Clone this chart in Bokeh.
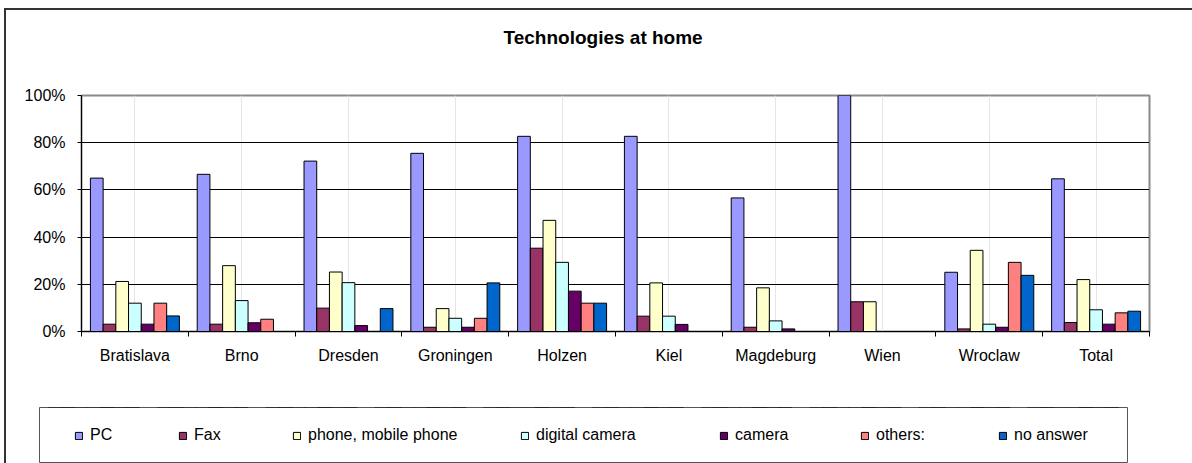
from bokeh.plotting import figure
from bokeh.layouts import column
from bokeh.models import (ColumnDataSource, FactorRange, Range1d, Legend, LegendItem,
                          LinearAxis, FixedTicker, PrintfTickFormatter, Grid, Title)
from bokeh.transform import dodge
from bokeh.embed import file_html
from bokeh.resources import INLINE

# ---------------- data (percent of respondents) ----------------
cities = ["Bratislava", "Brno", "Dresden", "Groningen", "Holzen", "Kiel",
          "Magdeburg", "Wien", "Wroclaw", "Total"]
pc        = [65.0, 66.6, 72.2, 75.5, 82.7, 82.7, 56.6, 100.0, 25.1, 64.7]
fax       = [3.1, 3.1, 9.9, 1.8, 35.3, 6.5, 1.8, 12.6, 1.1, 3.8]
phone     = [21.2, 27.9, 25.2, 9.7, 47.1, 20.6, 18.5, 12.6, 34.4, 22.0]
digital   = [12.0, 13.1, 20.7, 5.6, 29.3, 6.5, 4.5, 0.0, 3.1, 9.2]
camera    = [3.1, 3.7, 2.5, 1.8, 17.1, 3.0, 1.1, 0.0, 1.8, 3.1]
others    = [12.0, 5.2, 0.0, 5.6, 12.0, 0.0, 0.0, 0.0, 29.3, 7.9]
no_answer = [6.6, 0.0, 9.7, 20.6, 12.0, 0.0, 0.0, 0.0, 23.8, 8.6]
series_names = ["PC", "Fax", "phone, mobile phone", "digital camera",
                "camera", "others:", "no answer"]
y_ticks = [0, 20, 40, 60, 80, 100]

# ---------------- styles ----------------
colors = ["#9999FF", "#993366", "#FFFFCC", "#CCFFFF", "#660066", "#FF8080", "#0066CC"]
FONT = "Liberation Sans"
BAR_W = 0.119
cols = ["s0", "s1", "s2", "s3", "s4", "s5", "s6"]

src = ColumnDataSource(dict(city=cities, s0=pc, s1=fax, s2=phone, s3=digital,
                            s4=camera, s5=others, s6=no_answer))

# ---------------- title strip ----------------
tf = figure(width=1186, height=65, output_backend="svg", toolbar_location=None,
            x_axis_location=None, y_axis_location=None, frame_align=False,
            min_border_left=75, min_border_right=43, min_border_top=0,
            min_border_bottom=0)
tf.xgrid.visible = False
tf.ygrid.visible = False
tf.outline_line_color = None
tf.background_fill_color = "white"
tf.border_fill_color = "white"
tf.title = Title(text="Technologies at home", align="left",
                 text_font=FONT, text_font_size="19px", text_font_style="bold",
                 text_color="black", standoff=28, offset=422)

# ---------------- main chart ----------------
p = figure(width=1186, height=325, x_range=FactorRange(factors=cities),
           y_range=Range1d(0, 100), output_backend="svg", toolbar_location=None,
           x_axis_location=None, y_axis_location=None, frame_align=False,
           min_border_left=75, min_border_right=43, min_border_top=20,
           min_border_bottom=69)
p.background_fill_color = "white"
p.border_fill_color = "white"
p.outline_line_color = "#8a8a8a"
p.outline_line_width = 2

yaxis = LinearAxis(ticker=FixedTicker(ticks=y_ticks),
                   formatter=PrintfTickFormatter(format="%d%%"),
                   major_label_text_font=FONT, major_label_text_font_size="16px",
                   major_label_text_color="black", axis_line_color="black",
                   major_tick_line_color="black", major_tick_in=0, major_tick_out=4,
                   minor_tick_line_color=None, major_label_standoff=12)
p.add_layout(yaxis, "left")
p.add_layout(Grid(dimension=1, ticker=FixedTicker(ticks=y_ticks[1:-1]),
                  grid_line_color="black", grid_line_width=1))

# x axis: labels at category centres, small ticks on category boundaries
centres = [i + 0.5 for i in range(len(cities))]
bounds = list(range(len(cities) + 1))
xaxis = LinearAxis(ticker=FixedTicker(ticks=centres, minor_ticks=bounds),
                   major_label_overrides={c: name for c, name in zip(centres, cities)},
                   major_label_text_font=FONT, major_label_text_font_size="16px",
                   major_label_text_color="black", major_label_standoff=10,
                   axis_line_color="black", major_tick_line_color=None,
                   major_tick_in=0, major_tick_out=0,
                   minor_tick_line_color="black", minor_tick_in=0, minor_tick_out=5)
p.add_layout(xaxis, "below")

for i, (col, c) in enumerate(zip(cols, colors)):
    p.vbar(x=dodge("city", (i - 3) * BAR_W, range=p.x_range), top=col, width=BAR_W,
           source=src, fill_color=c, line_color="black", line_width=1)

# ---------------- legend strip ----------------
# same categories, but a value window below zero so only the legend shows
lf = figure(width=1186, height=63, x_range=p.x_range, y_range=Range1d(-60, -5),
            output_backend="svg", toolbar_location=None,
            x_axis_location=None, y_axis_location=None, frame_align=False,
            min_border_left=33, min_border_right=65, min_border_top=7,
            min_border_bottom=1)
lf.xgrid.visible = False
lf.ygrid.visible = False
lf.outline_line_color = "#555555"
lf.outline_line_width = 1
lf.background_fill_color = "white"
lf.border_fill_color = "white"

legend_x = [35, 139, 253, 481, 680, 821, 959]
for i, (name, col, c, lx) in enumerate(zip(series_names, cols, colors, legend_x)):
    swatch = lf.vbar(x=dodge("city", (i - 3) * BAR_W, range=lf.x_range), top=col,
                     width=BAR_W, source=src, fill_color=c, line_color="black",
                     line_width=1)
    lg = Legend(items=[LegendItem(label=name, renderers=[swatch])],
                location=(lx, 18), orientation="horizontal", padding=0, margin=0,
                spacing=0, border_line_color=None, background_fill_alpha=0,
                glyph_width=9, glyph_height=9, label_standoff=7,
                label_text_font=FONT, label_text_font_size="16px",
                label_text_color="black")
    lf.add_layout(lg)

layout = column(tf, p, lf, spacing=0,
                styles={"border-left": "2px solid #333333",
                        "border-top": "2px solid #333333",
                        "margin-left": "4px", "margin-top": "8px"})

open("out.html", "w").write(file_html(layout, INLINE))
